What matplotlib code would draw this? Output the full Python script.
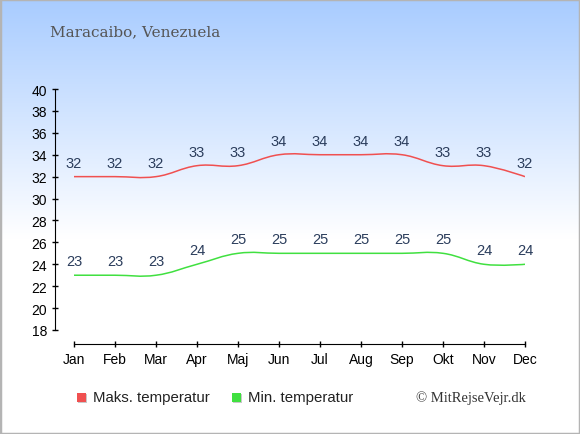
import numpy as np
import matplotlib
matplotlib.use('Agg')
from matplotlib import pyplot as plt
from matplotlib.path import Path
from matplotlib.patches import PathPatch, Rectangle

months = ['Jan', 'Feb', 'Mar', 'Apr', 'Maj', 'Jun', 'Jul', 'Aug', 'Sep', 'Okt', 'Nov', 'Dec']
max_temp = [32, 32, 32, 33, 33, 34, 34, 34, 34, 33, 33, 32]
min_temp = [23, 23, 23, 24, 25, 25, 25, 25, 25, 25, 24, 24]
yticks = list(range(18, 41, 2))

W, H = 580, 435
fig = plt.figure(figsize=(W / 100, H / 100), dpi=100)

# background gradient
bg = fig.add_axes([0, 0, 1, 1], zorder=-10)
top = np.array([0.66, 0.80, 1.0])
grad = np.linspace(0, 1, 256)[:, None]
t = np.clip(grad / 0.55, 0, 1)
img = top[None, :] * (1 - t[:, :, None]) + np.ones(3)[None, None, :] * t[:, :, None]
img = np.repeat(img, 2, axis=1)
bg.imshow(img, aspect='auto', extent=[0, 1, 0, 1], origin='upper')
bg.add_patch(Rectangle((0, 0), 1, 1, fill=False, ec='#b4b4b4', lw=2.5, transform=bg.transAxes))
bg.set_axis_off()


def px(x, y):
    return x / W, 1 - y / H


x0, x1 = 55, 525
yb, yt = 331, 90
l, b = px(x0, yb)
r, tp = px(x1, yt)
ax = fig.add_axes([l, b, r - l, tp - b])
ax.patch.set_alpha(0)
step = (525 - 74) / 11
ax.set_xlim(-(74 - 55) / step, 11)
ax.set_ylim(18, 40)


def spline(vals, k=1.5):
    # highcharts-style spline through the data points
    x = np.arange(len(vals), dtype=float)
    y = np.array(vals, dtype=float)
    n = len(y)
    lc = [(x[i], y[i]) for i in range(n)]
    rc = [(x[i], y[i]) for i in range(n)]
    for i in range(1, n - 1):
        lx = (k * x[i] + x[i - 1]) / (k + 1)
        ly = (k * y[i] + y[i - 1]) / (k + 1)
        rx = (k * x[i] + x[i + 1]) / (k + 1)
        ry = (k * y[i] + y[i + 1]) / (k + 1)
        c = ly + (ry - ly) * (x[i] - lx) / (rx - lx)
        d = y[i] - c
        lc[i] = (lx, ly + d)
        rc[i] = (rx, ry + d)
    verts = [(x[0], y[0])]
    codes = [Path.MOVETO]
    for i in range(n - 1):
        verts += [rc[i], lc[i + 1], (x[i + 1], y[i + 1])]
        codes += [Path.CURVE4] * 3
    return Path(verts, codes)


red = '#f05050'
green = '#40e040'
for vals, col in [(max_temp, red), (min_temp, green)]:
    ax.add_patch(PathPatch(spline(vals), fill=False, ec=col, lw=1.1))
    for i, v in enumerate(vals):
        ax.annotate(str(v), (i, v), xytext=(0, 5), textcoords='offset points',
                    ha='center', va='bottom', fontsize=10.5, color='#2b3d5c',
                    family='Liberation Sans')

for s in ['top', 'right']:
    ax.spines[s].set_visible(False)
ax.spines['left'].set_bounds(18, 40)
ax.spines['bottom'].set_bounds(0, 11)
ax.spines['bottom'].set_position(('outward', 10))
ax.set_xticks(range(12))
ax.set_xticklabels(months)
ax.set_yticks(yticks)
ax.tick_params(direction='inout', length=5, width=1, labelsize=10, colors='black', pad=3)
for lab in ax.get_xticklabels() + ax.get_yticklabels():
    lab.set_family('Liberation Sans')

fig.text(*px(50, 32), 'Maracaibo, Venezuela', family='DejaVu Serif', fontsize=11,
         color='#555555', va='center', ha='left')

# legend
for xs, col, label in [(77, red, 'Maks. temperatur'), (232, green, 'Min. temperatur')]:
    fig.patches.append(Rectangle(px(xs + 1, 404), 9 / W, 9 / H, transform=fig.transFigure,
                                 fc='#c8c8c8', ec='none'))
    fig.patches.append(Rectangle(px(xs, 403), 9 / W, 9 / H, transform=fig.transFigure,
                                 fc=col, ec='none'))
    fig.text(*px(xs + 16, 398), label, family='Liberation Sans', fontsize=10.8,
             color='#222222', va='center', ha='left')

fig.text(*px(526, 398), '\u00a9 MitRejseVejr.dk', family='Liberation Serif', fontsize=10.5,
         color='#333333', va='center', ha='right')

fig.savefig('out.png', dpi=100)
